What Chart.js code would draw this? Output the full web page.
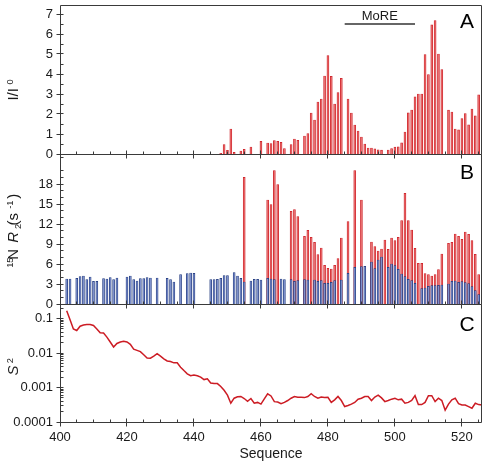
<!DOCTYPE html>
<html>
<head>
<meta charset="utf-8">
<script src="https://cdn.jsdelivr.net/npm/chart.js@4.4.1/dist/chart.umd.min.js"></script>
<style>
  html, body { margin: 0; padding: 0; background: #fff; }
  #wrap { position: relative; width: 490px; height: 466px; }
  #wrap canvas { position: absolute; left: 0; top: 0; }
</style>
</head>
<body>
<div id="wrap">
  <canvas id="chartA" width="490" height="466"></canvas>
  <canvas id="chartB" width="490" height="466"></canvas>
  <canvas id="chartC" width="490" height="466"></canvas>
</div>
<script>
// Panel A: I/I0 ratio per residue
const seqA = [448,449,450,451,452,454,455,457,460,462,463,464,465,466,467,469,470,471,473,474,475,476,477,478,479,480,481,482,483,484,486,487,488,489,490,491,492,493,494,495,496,498,499,500,501,502,503,504,505,506,507,508,509,510,511,512,513,514,516,517,518,519,520,521,522,523,524,525];
const ratioA = [0.03,0.47,0.18,1.25,0.08,0.15,0.23,0.35,0.63,0.55,0.52,0.67,0.63,0.58,0.27,0.47,0.75,0.68,0.9,1.02,2.05,1.7,2.6,2.75,3.9,4.92,3.88,2.5,3.07,3.78,2.75,2.05,1.45,1.15,0.85,0.5,0.3,0.3,0.26,0.21,0.19,0.2,0.27,0.34,0.36,0.56,1.1,2.06,2.2,2.86,3.0,3.0,4.97,3.97,6.46,6.67,5.0,4.22,2.19,2.1,1.25,1.21,1.77,2.02,1.46,2.25,1.91,2.96];
const moreSpan = [485, 506];
const moreLevel = 6.5;

// Panel B: 15N R2, blue base and red total
const seqBlue = [402,403,405,406,407,408,409,410,411,413,414,415,416,417,420,421,422,423,424,425,426,427,429,432,433,434,436,438,439,440,445,446,447,448,449,450,452,453,454,455,457,458,459,460,462,463,464,466,467,469,470,471,473,474,476,477,478,479,480,481,482,484,486,488,490,491,493,494,495,496,498,499,500,501,502,503,504,505,506,508,509,510,511,512,513,514,516,517,518,519,520,521,522,523,524,525];
const blueR2 = [3.75,3.75,3.85,4.1,4.2,3.65,4.05,3.4,3.4,3.8,3.75,3.95,3.65,3.9,4.05,4.2,3.65,3.45,3.8,3.8,3.95,3.9,3.9,3.85,3.65,3.3,4.4,4.55,4.65,4.6,3.65,3.65,3.7,3.85,4.25,4.25,4.7,4.2,3.85,3.3,3.45,3.7,3.7,3.6,3.85,3.75,3.65,3.75,3.65,3.65,3.4,3.5,3.65,3.6,3.6,3.4,3.5,3.1,3.1,3.25,3.5,3.6,4.6,5.5,5.6,5.65,6.3,5.3,6.6,7.05,5.5,6.0,5.75,5.2,4.5,4.1,3.7,3.5,3.1,2.3,2.4,2.65,2.75,2.75,2.8,2.85,3.0,3.4,3.45,3.25,3.35,3.2,3.05,2.6,2.0,1.4];
const seqRed = [455,462,463,464,465,469,470,471,473,474,475,476,477,478,479,480,481,482,483,484,486,488,490,493,494,495,496,497,498,499,500,501,502,503,504,505,506,507,508,509,510,511,512,513,514,516,517,518,519,520,521,522,523,524,525];
const totalR2 = [19.0,15.6,14.9,20.0,17.9,13.9,14.15,13.1,10.15,11.05,10.0,9.25,7.4,8.4,5.8,5.35,5.25,5.8,6.8,9.9,12.35,20.0,15.6,9.3,8.6,7.95,8.25,9.6,8.2,9.9,9.5,10.0,12.5,16.6,12.5,11.1,8.35,6.1,6.1,4.55,4.4,4.2,4.4,5.15,7.5,9.1,9.25,10.5,10.15,9.7,10.8,10.45,9.5,7.45,4.4];

// Panel C: S2 from residue 402 to 526
const firstResidueC = 402;
const s2 = [0.17,0.093,0.050,0.045,0.060,0.065,0.067,0.067,0.063,0.050,
  0.039,0.038,0.029,0.021,0.015,0.019,0.021,0.022,0.021,0.018,
  0.013,0.012,0.011,0.0089,0.0072,0.0071,0.0081,0.0096,0.0081,0.0068,
  0.0059,0.0057,0.0052,0.0052,0.0039,0.0031,0.0025,0.0022,0.0023,0.0022,
  0.0020,0.0017,0.0018,0.00135,0.0013,0.0013,0.00107,0.00083,0.0006,0.00035,
  0.00049,0.00054,0.00055,0.00048,0.0004,0.00048,0.00035,0.00037,0.00033,0.00047,
  0.00066,0.00057,0.00039,0.00038,0.00034,0.00037,0.00042,0.00049,0.00055,0.00052,
  0.00052,0.00051,0.00055,0.00066,0.00055,0.00049,0.00053,0.00051,0.00052,0.00037,
  0.00044,0.00055,0.00042,0.00028,0.0003,0.00033,0.00037,0.00046,0.00049,0.00055,
  0.00055,0.00042,0.00053,0.0006,0.0005,0.00039,0.00042,0.00046,0.00049,0.00044,
  0.00046,0.00035,0.00037,0.00042,0.00058,0.00032,0.00032,0.00037,0.00058,0.00058,
  0.00039,0.00049,0.00042,0.00022,0.00033,0.00044,0.00049,0.00034,0.00031,0.00031,
  0.00028,0.00025,0.00035,0.00032,0.00031];

// tick labels
const seqTicks = [400, 420, 440, 460, 480, 500, 520];
const ticksA = [0, 1, 2, 3, 4, 5, 6, 7];
const ticksB = [0, 3, 6, 9, 12, 15, 18];
const ticksC = [0.0001, 0.001, 0.01, 0.1];

const FONT = '"Liberation Sans", Arial, Helvetica, sans-serif';
const INK = '#1a1a1a';
const FRAME = '#3a3a3a';
const RED = '#cc1c24', RED_FILL = '#e96e6e';
const BLUE = '#1c357a', BLUE_FILL = '#7d90cc';

Chart.defaults.font.family = FONT;

// rotated axis title with super/subscripts
function drawRich(ctx, cx, cy, parts, size) {
  ctx.save();
  ctx.translate(cx, cy);
  ctx.rotate(-Math.PI / 2);
  let total = 0;
  const fonts = parts.map(p => {
    const s = (p.sup || p.sub) ? size * 0.62 : size;
    const f = (p.it ? 'italic ' : '') + s + 'px ' + FONT;
    ctx.font = f;
    const w = ctx.measureText(p.t).width;
    total += w;
    return { f, w };
  });
  let x = -total / 2;
  ctx.fillStyle = INK;
  ctx.textBaseline = 'alphabetic';
  parts.forEach((p, i) => {
    ctx.font = fonts[i].f;
    const dy = p.sup ? -size * 0.38 : p.sub ? size * 0.2 : 0;
    ctx.fillText(p.t, x, size * 0.36 + dy);
    x += fonts[i].w;
  });
  ctx.restore();
}

const panelFrame = {
  id: 'panelFrame',
  afterDraw(chart, args, o) {
    const { ctx, chartArea: a, scales: { x, y } } = chart;
    const px = v => Math.floor(v) + 0.5;
    const L = px(a.left), R = px(a.right - 1), T = px(a.top), B = px(a.bottom);
    ctx.save();
    ctx.strokeStyle = FRAME;
    ctx.lineWidth = 1;
    ctx.beginPath();
    ctx.rect(L, T, R - L, B - T);
    for (let v = 400; v <= 525; v += 5) {
      const xx = px(x.getPixelForValue(v));
      const major = seqTicks.includes(v);
      ctx.moveTo(xx, B + (major ? 4 : 0));
      ctx.lineTo(xx, B - (major ? 4 : 3));
    }
    y.ticks.forEach(t => {
      const yy = px(y.getPixelForValue(t.value));
      ctx.moveTo(L - 4, yy);
      ctx.lineTo(L + 3, yy);
    });
    o.minorY.forEach(v => {
      const yy = px(y.getPixelForValue(v));
      ctx.moveTo(L, yy);
      ctx.lineTo(L + 3, yy);
    });
    ctx.stroke();

    ctx.fillStyle = '#000';
    ctx.font = '21px ' + FONT;
    ctx.textAlign = 'center';
    ctx.textBaseline = 'middle';
    ctx.fillText(o.letter, a.right - 15, a.top + o.letterDy);

    if (o.note) {
      ctx.font = '13px ' + FONT;
      ctx.fillStyle = INK;
      ctx.fillText(o.note.text, x.getPixelForValue(o.note.x), y.getPixelForValue(o.note.y));
    }
    drawRich(ctx, 13, (a.top + a.bottom) / 2 + (o.titleDy || 0), o.title, 15);
    ctx.restore();
  }
};

function yAxis(extra) {
  return Object.assign({
    grid: { display: false, drawTicks: true, tickLength: 4 },
    border: { display: false },
    ticks: { color: INK, padding: 3, font: { family: FONT, size: 13 } },
    afterFit(s) { s.width = 60; s.paddingTop = 0; s.paddingBottom = 0; }
  }, extra);
}

const hiddenX = { type: 'linear', min: 400, max: 526, offset: false, display: false };

function baseOptions(padding, scales, frameOpts) {
  return {
    responsive: false,
    animation: false,
    layout: { padding },
    plugins: { legend: { display: false }, tooltip: { enabled: false }, panelFrame: frameOpts },
    scales
  };
}

const barStyle = { borderWidth: 0.7, barThickness: 2, grouped: false };

// Panel A
const minorA = [];
for (let v = 0.5; v < 7.45; v += 1) minorA.push(v);
new Chart(document.getElementById('chartA'), {
  type: 'bar',
  data: {
    datasets: [
      Object.assign({
        data: seqA.map((r, i) => ({ x: r, y: ratioA[i] })),
        backgroundColor: RED_FILL, borderColor: RED
      }, barStyle),
      {
        type: 'line',
        data: moreSpan.map(r => ({ x: r, y: moreLevel })),
        borderColor: '#333', borderWidth: 1.5, pointRadius: 0
      }
    ]
  },
  options: baseOptions({ top: 5, bottom: 312, left: 0, right: 8 }, {
    x: hiddenX,
    y: yAxis({ min: 0, max: 7.45, afterBuildTicks: s => { s.ticks = ticksA.map(v => ({ value: v })); } })
  }, {
    letter: 'A', letterDy: 17, minorY: minorA, titleDy: 6,
    title: [{ t: 'I/I' }, { t: '0', sup: true }],
    note: { text: 'MoRE', x: 495.5, y: 6.9 }
  }),
  plugins: [panelFrame]
});

// Panel B
const minorB = [];
for (let v = 1; v < 22.5; v++) if (v % 3) minorB.push(v);
new Chart(document.getElementById('chartB'), {
  type: 'bar',
  data: {
    datasets: [
      Object.assign({
        data: seqBlue.map((r, i) => ({ x: r, y: blueR2[i] })),
        backgroundColor: BLUE_FILL, borderColor: BLUE, order: 0
      }, barStyle),
      Object.assign({
        data: seqRed.map((r, i) => ({ x: r, y: totalR2[i] })),
        backgroundColor: RED_FILL, borderColor: RED, order: 1
      }, barStyle)
    ]
  },
  options: baseOptions({ top: 154, bottom: 162, left: 0, right: 8 }, {
    x: hiddenX,
    y: yAxis({ min: 0, max: 22.5, afterBuildTicks: s => { s.ticks = ticksB.map(v => ({ value: v })); } })
  }, {
    letter: 'B', letterDy: 19, minorY: minorB, titleDy: -2,
    title: [{ t: '15', sup: true }, { t: 'N ' }, { t: 'R', it: true }, { t: '2', sub: true },
            { t: ' (s' }, { t: '-1', sup: true }, { t: ')' }]
  }),
  plugins: [panelFrame]
});

// Panel C
const minorC = [];
for (let e = -4; e <= -1; e++) for (let m = 2; m <= 9; m++) {
  const v = m * Math.pow(10, e);
  if (v < 0.265) minorC.push(v);
}
new Chart(document.getElementById('chartC'), {
  type: 'line',
  data: {
    datasets: [{
      data: s2.map((v, i) => ({ x: firstResidueC + i, y: v })),
      borderColor: RED, borderWidth: 1.5, pointRadius: 0, tension: 0
    }]
  },
  options: baseOptions({ top: 304, bottom: 0, left: 0, right: 8 }, {
    x: {
      type: 'linear', min: 400, max: 526, offset: false,
      grid: { display: false, drawTicks: true, tickLength: 4 },
      border: { display: false },
      ticks: { color: INK, padding: 4, font: { family: FONT, size: 13 } },
      afterBuildTicks: s => { s.ticks = seqTicks.map(v => ({ value: v })); },
      title: { display: true, text: 'Sequence', color: INK, font: { family: FONT, size: 14 }, padding: { top: 0, bottom: 3 } },
      afterFit(s) { s.height = 44; s.paddingLeft = 0; s.paddingRight = 0; }
    },
    y: yAxis({
      type: 'logarithmic', min: 0.0001, max: 0.265,
      afterBuildTicks: s => { s.ticks = ticksC.map(v => ({ value: v })); },
      ticks: { color: INK, padding: 3, font: { family: FONT, size: 13 }, callback: v => String(v) }
    })
  }, {
    letter: 'C', letterDy: 21, minorY: minorC, titleDy: 0,
    title: [{ t: 'S', it: true }, { t: '2', sup: true }]
  }),
  plugins: [panelFrame]
});
</script>
</body>
</html>
